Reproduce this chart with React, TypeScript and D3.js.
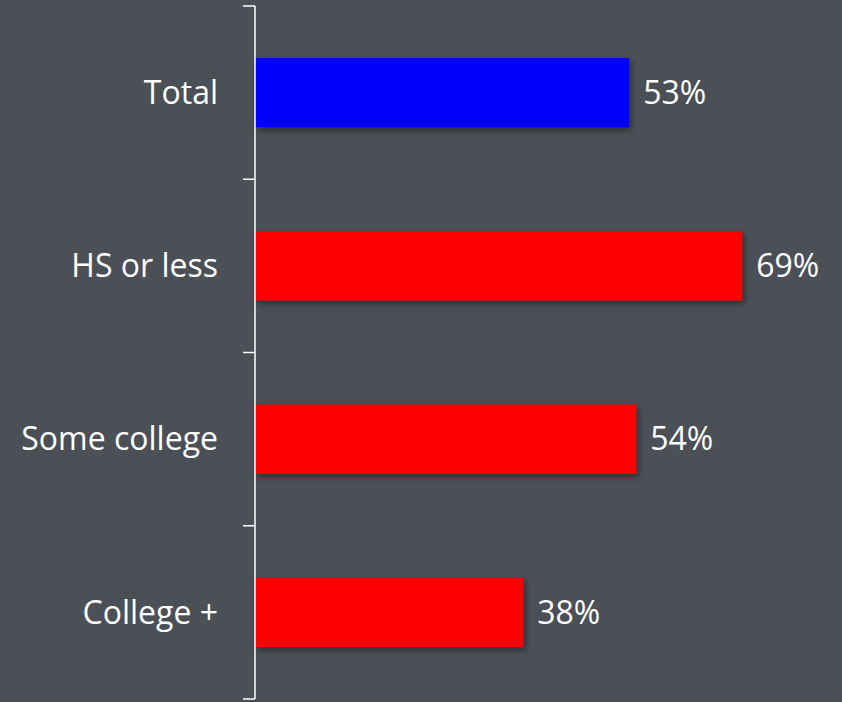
import React from "react";
import * as d3 from "d3";

const categories = ["Total", "HS or less", "Some college", "College +"];
const values = [53, 69, 54, 38];
const barColors = ["#0000ff", "#ff0000", "#ff0000", "#ff0000"];

const W = 842;
const H = 702;
const AXIS_X = 255;
const TOP = 6;
const BOTTOM = 699;

export default function App() {
  const y = d3.scaleBand<string>().domain(categories).range([TOP, BOTTOM]).paddingInner(0.6).paddingOuter(0.3);
  const x = d3.scaleLinear().domain([0, 100]).range([AXIS_X, AXIS_X + 706]);
  const tickYs = d3.range(categories.length + 1).map((i) => TOP + i * (BOTTOM - TOP) / categories.length);
  const font = "'Open Sans', sans-serif";
  const fs = 32;
  return (
    <svg width={W} height={H} style={{ position: "absolute", left: 0, top: 0, display: "block" }}>
      <defs>
        <filter id="sh" x="-10%" y="-30%" width="130%" height="180%">
          <feDropShadow dx="2" dy="3" stdDeviation="3" floodColor="#000" floodOpacity="0.45" />
        </filter>
      </defs>
      <rect x={0} y={0} width={W} height={H} fill="#4b4f56" />
      {categories.map((c, i) => (
        <g key={c}>
          <rect
            x={x(0)}
            y={y(c)!}
            width={x(values[i]) - x(0)}
            height={y.bandwidth()}
            fill={barColors[i]}
            filter="url(#sh)"
          />
          <text
            x={x(values[i]) + 14}
            y={y(c)! + y.bandwidth() / 2}
            dy="0.35em"
            fill="#ffffff"
            fontSize={fs}
            fontFamily={font}
          >
            {values[i]}%
          </text>
          <text
            x={AXIS_X - 37}
            y={y(c)! + y.bandwidth() / 2}
            dy="0.35em"
            textAnchor="end"
            fill="#ffffff"
            fontSize={fs}
            fontFamily={font}
          >
            {c}
          </text>
        </g>
      ))}
      <line x1={AXIS_X} x2={AXIS_X} y1={TOP} y2={BOTTOM} stroke="#ffffff" strokeWidth={1.5} />
      {tickYs.map((t, i) => (
        <line key={i} x1={AXIS_X - 12} x2={AXIS_X} y1={t} y2={t} stroke="#ffffff" strokeWidth={1.5} />
      ))}
    </svg>
  );
}
